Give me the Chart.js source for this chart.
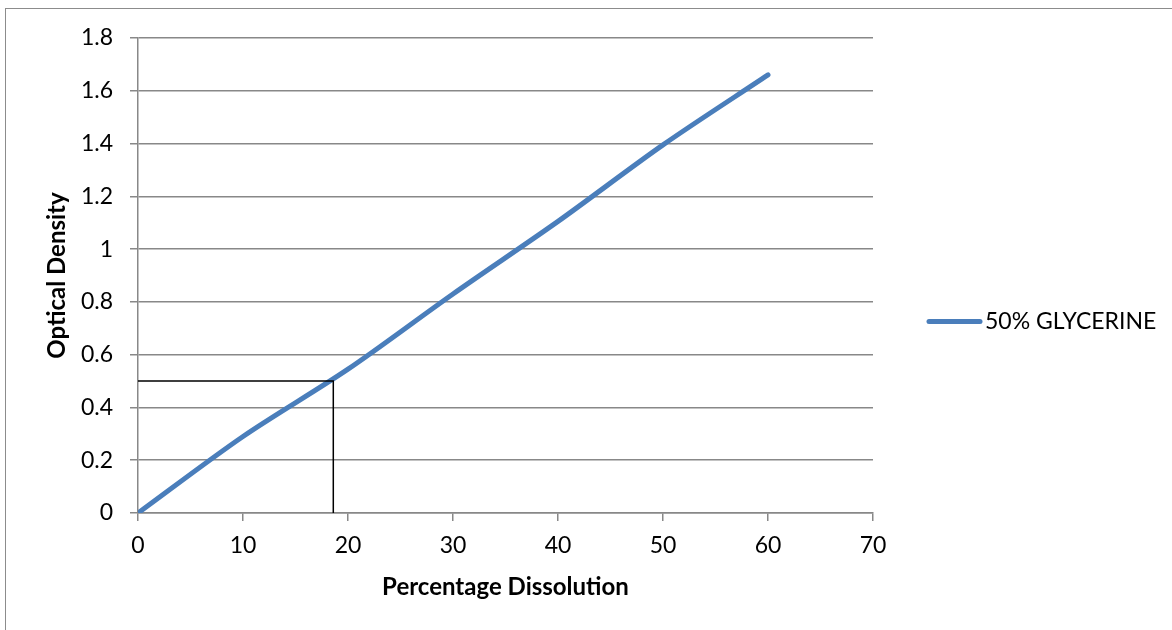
<!DOCTYPE html>
<html>
<head>
<meta charset="utf-8">
<script src="https://cdn.jsdelivr.net/npm/chart.js@4/dist/chart.umd.min.js"></script>
<style>
  html, body { margin: 0; padding: 0; background: #fff; overflow: hidden; }
  #wrap { position: relative; width: 1172px; height: 630px; }
  #frame { position: absolute; left: 5px; top: 8px; width: 1200px; height: 700px;
           border-left: 1.5px solid #8c8c8c; border-top: 1.5px solid #8c8c8c; }
  canvas { position: absolute; left: 0; top: 0; }
</style>
</head>
<body>
<div id="wrap">
  <div id="frame"></div>
  <canvas id="chartContainer" width="1172" height="630"></canvas>
</div>
<script>
"use strict";

// 1: data
let dissolution = [0, 10, 20, 30, 40, 50, 60];
let opticalDensity = [0, 0.29, 0.545, 0.83, 1.105, 1.395, 1.66];
let seriesLabel = '50% GLYCERINE';

// reading line for OD 0.5
let readX = [0, 18.6, 18.6];
let readY = [0.5, 0.5, 0];

let xTicks = [0, 10, 20, 30, 40, 50, 60, 70];
let yTickLabels = ['0', '0.2', '0.4', '0.6', '0.8', '1', '1.2', '1.4', '1.6', '1.8'];

const FONT = 'Lato, "Open Sans", sans-serif';

function toPoints(xs, ys) {
  let pts = [];
  for (let i = 0; i < xs.length; i++) {
    pts.push({ x: xs[i], y: ys[i] });
  }
  return pts;
}

// legend drawn to the right of the plot, like the spreadsheet one
const sideLegend = {
  id: 'sideLegend',
  afterDraw(chart) {
    const ctx = chart.ctx;
    const ds = chart.data.datasets[0];
    const y = (chart.chartArea.top + chart.chartArea.bottom) / 2 + 46;
    ctx.save();
    ctx.strokeStyle = ds.borderColor;
    ctx.lineWidth = 5;
    ctx.lineCap = 'round';
    ctx.beginPath();
    ctx.moveTo(929, y);
    ctx.lineTo(980, y);
    ctx.stroke();
    ctx.fillStyle = '#000';
    ctx.font = '23px ' + FONT;
    ctx.textBaseline = 'middle';
    ctx.fillText(ds.label, 985, y);
    ctx.restore();
  }
};

function appendChart() {
  let chartContainer = document.getElementById('chartContainer');
  new Chart(chartContainer, {
    type: 'scatter',
    data: {
      datasets: [{
        label: seriesLabel,
        data: toPoints(dissolution, opticalDensity),
        showLine: true,
        borderColor: '#4a7ebb',
        borderWidth: 5,
        borderCapStyle: 'round',
        tension: 0.3,
        pointRadius: 0,
        order: 1
      },
      {
        label: 'reading',
        data: toPoints(readX, readY),
        showLine: true,
        borderColor: '#000',
        borderWidth: 1.5,
        tension: 0,
        pointRadius: 0,
        order: 0
      }]
    },
    options: {
      responsive: false,
      animation: false,
      layout: { padding: { top: 38, right: 299, bottom: 0, left: 0 } },
      plugins: {
        legend: { display: false },
        tooltip: { enabled: false }
      },
      scales: {
        x: {
          type: 'linear',
          min: 0,
          max: 70,
          afterBuildTicks: (scale) => { scale.ticks = xTicks.map(v => ({ value: v })); },
          afterFit: (scale) => { scale.height = 117; },
          grid: { drawOnChartArea: false, drawTicks: true, tickLength: 8, color: '#888', lineWidth: 1.5 },
          border: { color: '#888', width: 1.5 },
          ticks: { color: '#000', padding: 11, maxRotation: 0, font: { family: FONT, size: 23 } },
          title: {
            display: true,
            text: 'Percentage Dissolution',
            color: '#000',
            padding: { top: 0, bottom: 28 },
            font: { family: FONT, size: 24, weight: 'bold' }
          }
        },
        y: {
          type: 'linear',
          min: 0,
          max: 1.8,
          afterBuildTicks: (scale) => {
            scale.ticks = yTickLabels.map(t => ({ value: parseFloat(t) }));
          },
          afterFit: (scale) => { scale.width = 138; },
          grid: { drawTicks: true, tickLength: 8, color: '#888', lineWidth: 1.5 },
          border: { color: '#888', width: 1.5 },
          ticks: {
            color: '#000',
            padding: 17,
            font: { family: FONT, size: 23 },
            callback: (v) => yTickLabels[Math.round(v * 5)]
          },
          title: {
            display: true,
            text: 'Optical Density',
            color: '#000',
            padding: { top: 43, bottom: 0 },
            font: { family: FONT, size: 24, weight: 'bold' }
          }
        }
      }
    },
    plugins: [sideLegend]
  });
}

appendChart();
</script>
</body>
</html>
